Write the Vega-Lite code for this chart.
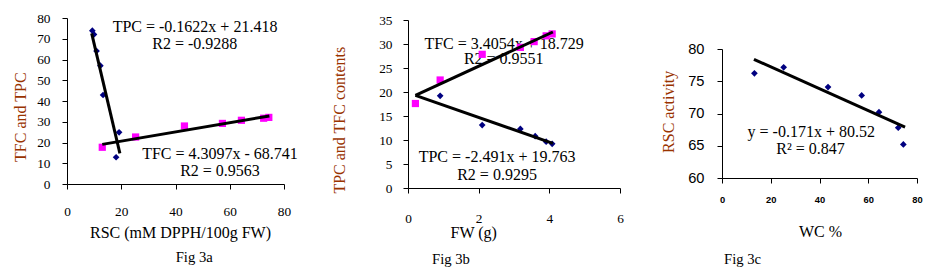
{
  "$schema": "https://vega.github.io/schema/vega-lite/v6.json",
  "autosize": {"type": "none"},
  "padding": {"left": 67, "top": 18, "right": 860, "bottom": 254},
  "background": "white",
  "spacing": 0,
  "bounds": "flush",
  "config": {
    "view": {"stroke": null},
    "axis": {"grid": false, "domainColor": "black", "tickColor": "black", "labelColor": "black", "titleColor": "black", "tickSize": 5, "labelFlush": false, "labelOverlap": false, "titleFontWeight": "normal", "domainWidth": 1, "tickWidth": 1}
  },
  "resolve": {"scale": {"x": "independent", "y": "independent", "color": "independent", "shape": "independent"}},
  "hconcat": [
    {
      "width": 341,
      "height": 166,
      "title": {"text": "Fig 3a", "orient": "bottom", "anchor": "start", "frame": "group", "dx": 108.7, "offset": 10, "font": "Liberation Serif", "fontSize": 14.67, "fontWeight": "normal", "color": "black"},
      "encoding": {
        "x": {"field": "x", "type": "quantitative", "scale": {"domain": [0, 80], "range": [0, 217], "nice": false, "zero": false},
          "axis": {"title": "RSC (mM DPPH/100g FW)", "values": [0, 20, 40, 60, 80], "labelFont": "Liberation Serif", "labelFontSize": 13.33, "labelBaseline": "alphabetic", "labelPadding": 26, "titleFont": "Liberation Serif", "titleFontSize": 16, "titleX": 113, "titleY": 53, "titleBaseline": "alphabetic", "titleAlign": "center"}},
        "y": {"field": "y", "type": "quantitative", "scale": {"domain": [0, 80], "nice": false, "zero": false},
          "axis": {"title": "TFC and TPC", "values": [0, 10, 20, 30, 40, 50, 60, 70, 80], "labelFont": "Liberation Serif", "labelFontSize": 13.33, "labelPadding": 12, "titleFont": "Liberation Serif", "titleFontSize": 16, "titleColor": "#993300", "titleX": -42, "titleY": 98.7, "titleBaseline": "alphabetic", "titleAlign": "center", "titleAngle": 270}}
      },
      "layer": [
        {
          "data": {"values": [
            {"label": "TPC = -0.1622x + 21.418", "x": 47.2, "y": 75.8},
            {"label": "R2 = -0.9288", "x": 47.1, "y": 67.6},
            {"label": "TFC = 4.3097x - 68.741", "x": 56.4, "y": 14.55},
            {"label": "R2 = 0.9563", "x": 56.4, "y": 6.35}
          ]},
          "mark": {"type": "text", "font": "Liberation Serif", "fontSize": 16, "align": "center", "baseline": "middle", "color": "black"},
          "encoding": {"text": {"field": "label", "type": "nominal"}}
        },
        {
          "data": {"values": [
            {"series": "TPC", "x": 9.34, "y": 73.9},
            {"series": "TPC", "x": 9.95, "y": 72.1},
            {"series": "TPC", "x": 10.9, "y": 64.1},
            {"series": "TPC", "x": 12.3, "y": 57.0},
            {"series": "TPC", "x": 13.3, "y": 42.9},
            {"series": "TPC", "x": 19.2, "y": 24.9},
            {"series": "TPC", "x": 18.1, "y": 12.9},
            {"series": "TFC", "x": 13.0, "y": 17.7},
            {"series": "TFC", "x": 25.3, "y": 22.65},
            {"series": "TFC", "x": 43.3, "y": 27.95},
            {"series": "TFC", "x": 57.3, "y": 29.2},
            {"series": "TFC", "x": 64.3, "y": 30.7},
            {"series": "TFC", "x": 72.5, "y": 31.7},
            {"series": "TFC", "x": 74.4, "y": 32.1}
          ]},
          "mark": {"type": "point", "filled": true, "opacity": 1, "strokeWidth": 0},
          "encoding": {
            "color": {"field": "series", "type": "nominal", "scale": {"domain": ["TPC", "TFC"], "range": ["#000080", "#ff00ff"]}, "legend": null},
            "shape": {"field": "series", "type": "nominal", "scale": {"domain": ["TPC", "TFC"], "range": ["diamond", "square"]}, "legend": null},
            "size": {"field": "series", "type": "nominal", "scale": {"domain": ["TPC", "TFC"], "range": [45, 52]}, "legend": null}
          }
        },
        {
          "data": {"values": [
            {"series": "TPC", "x": 9.1, "y": 72.6},
            {"series": "TPC", "x": 19.5, "y": 14.8},
            {"series": "TFC", "x": 13.0, "y": 19.1},
            {"series": "TFC", "x": 74.6, "y": 32.8}
          ]},
          "mark": {"type": "line", "color": "black", "strokeWidth": 3},
          "encoding": {"detail": {"field": "series", "type": "nominal"}}
        }
      ]
    },
    {
      "width": 314,
      "height": 170,
      "title": {"text": "Fig 3b", "orient": "bottom", "anchor": "start", "frame": "group", "dx": 24, "offset": 12, "font": "Liberation Serif", "fontSize": 14.67, "fontWeight": "normal", "color": "black"},
      "encoding": {
        "x": {"field": "x", "type": "quantitative", "scale": {"domain": [0, 6], "range": [0, 212], "nice": false, "zero": false},
          "axis": {"title": "FW (g)", "values": [0, 2, 4, 6], "labelFont": "Liberation Serif", "labelFontSize": 13.33, "labelBaseline": "alphabetic", "labelPadding": 29, "titleFont": "Liberation Serif", "titleFontSize": 16, "titleX": 65.2, "titleY": 49.3, "titleBaseline": "alphabetic", "titleAlign": "center"}},
        "y": {"field": "y", "type": "quantitative", "scale": {"domain": [0, 35], "range": [170, 2], "nice": false, "zero": false},
          "axis": {"title": "TPC and TFC contents", "values": [0, 5, 10, 15, 20, 25, 30, 35], "labelFont": "Liberation Serif", "labelFontSize": 13.33, "labelPadding": 11, "titleFont": "Liberation Serif", "titleFontSize": 16, "titleColor": "#993300", "titleX": -64, "titleY": 101.7, "titleBaseline": "alphabetic", "titleAlign": "center", "titleAngle": 270}}
      },
      "layer": [
        {
          "data": {"values": [
            {"label": "TFC = 3.4054x + 18.729", "x": 2.72, "y": 30.0},
            {"label": "R2 = 0.9551", "x": 2.71, "y": 26.8},
            {"label": "TPC = -2.491x + 19.763", "x": 2.52, "y": 6.4},
            {"label": "R2 = 0.9295", "x": 2.52, "y": 2.8}
          ]},
          "mark": {"type": "text", "font": "Liberation Serif", "fontSize": 16, "align": "center", "baseline": "middle", "color": "black"},
          "encoding": {"text": {"field": "label", "type": "nominal"}}
        },
        {
          "data": {"values": [
            {"series": "TPC", "x": 0.91, "y": 19.2},
            {"series": "TPC", "x": 2.10, "y": 13.1},
            {"series": "TPC", "x": 3.18, "y": 12.3},
            {"series": "TPC", "x": 3.6, "y": 10.8},
            {"series": "TPC", "x": 3.91, "y": 9.65},
            {"series": "TPC", "x": 4.08, "y": 9.2},
            {"series": "TFC", "x": 0.21, "y": 17.6},
            {"series": "TFC", "x": 0.91, "y": 22.5},
            {"series": "TFC", "x": 2.10, "y": 27.85},
            {"series": "TFC", "x": 3.18, "y": 29.3},
            {"series": "TFC", "x": 3.57, "y": 30.5},
            {"series": "TFC", "x": 3.91, "y": 31.7},
            {"series": "TFC", "x": 4.08, "y": 32.1}
          ]},
          "mark": {"type": "point", "filled": true, "opacity": 1, "strokeWidth": 0},
          "encoding": {
            "color": {"field": "series", "type": "nominal", "scale": {"domain": ["TPC", "TFC"], "range": ["#000080", "#ff00ff"]}, "legend": null},
            "shape": {"field": "series", "type": "nominal", "scale": {"domain": ["TPC", "TFC"], "range": ["diamond", "square"]}, "legend": null},
            "size": {"field": "series", "type": "nominal", "scale": {"domain": ["TPC", "TFC"], "range": [45, 52]}, "legend": null}
          }
        },
        {
          "data": {"values": [
            {"series": "TFC", "x": 0.21, "y": 19.3},
            {"series": "TFC", "x": 4.1, "y": 32.5},
            {"series": "TPC", "x": 0.21, "y": 19.3},
            {"series": "TPC", "x": 4.1, "y": 9.3}
          ]},
          "mark": {"type": "line", "color": "black", "strokeWidth": 3},
          "encoding": {"detail": {"field": "series", "type": "nominal"}}
        }
      ]
    },
    {
      "width": 195,
      "height": 160,
      "title": {"text": "Fig 3c", "orient": "bottom", "anchor": "start", "frame": "group", "dx": 2, "offset": 12, "font": "Liberation Serif", "fontSize": 14.67, "fontWeight": "normal", "color": "black"},
      "encoding": {
        "x": {"field": "x", "type": "quantitative", "scale": {"domain": [0, 80], "nice": false, "zero": false},
          "axis": {"title": "WC %", "values": [0, 20, 40, 60, 80], "labelFont": "Liberation Sans", "labelFontSize": 9.33, "labelFontWeight": "bold", "labelBaseline": "alphabetic", "labelPadding": 19.5, "titleFont": "Liberation Serif", "titleFontSize": 16, "titleX": 98, "titleY": 58.6, "titleBaseline": "alphabetic", "titleAlign": "center"}},
        "y": {"field": "y", "type": "quantitative", "scale": {"domain": [60, 80], "range": [160, 31], "nice": false, "zero": false},
          "axis": {"title": "RSC activity", "values": [60, 65, 70, 75, 80], "labelFont": "Liberation Sans", "labelFontSize": 14.67, "labelPadding": 13, "titleFont": "Liberation Serif", "titleFontSize": 16, "titleColor": "#993300", "titleX": -49, "titleY": 93.3, "titleBaseline": "alphabetic", "titleAlign": "center", "titleAngle": 270}}
      },
      "layer": [
        {
          "data": {"values": [
            {"label": "y = -0.171x + 80.52", "x": 36.6, "y": 67.18},
            {"label": "R² = 0.847", "x": 36.3, "y": 64.54}
          ]},
          "mark": {"type": "text", "font": "Liberation Serif", "fontSize": 16, "align": "center", "baseline": "middle", "color": "black"},
          "encoding": {"text": {"field": "label", "type": "nominal"}}
        },
        {
          "data": {"values": [
            {"x": 13.3, "y": 76.23},
            {"x": 25.3, "y": 77.16},
            {"x": 43.5, "y": 74.1},
            {"x": 57.3, "y": 72.8},
            {"x": 64.4, "y": 70.2},
            {"x": 72.3, "y": 67.8},
            {"x": 74.4, "y": 65.2}
          ]},
          "mark": {"type": "point", "shape": "diamond", "filled": true, "opacity": 1, "strokeWidth": 0, "size": 45, "color": "#000080"}
        },
        {
          "data": {"values": [
            {"x": 13.1, "y": 78.4},
            {"x": 75.1, "y": 67.9}
          ]},
          "mark": {"type": "line", "color": "black", "strokeWidth": 3},
          "encoding": {}
        }
      ]
    }
  ]
}
